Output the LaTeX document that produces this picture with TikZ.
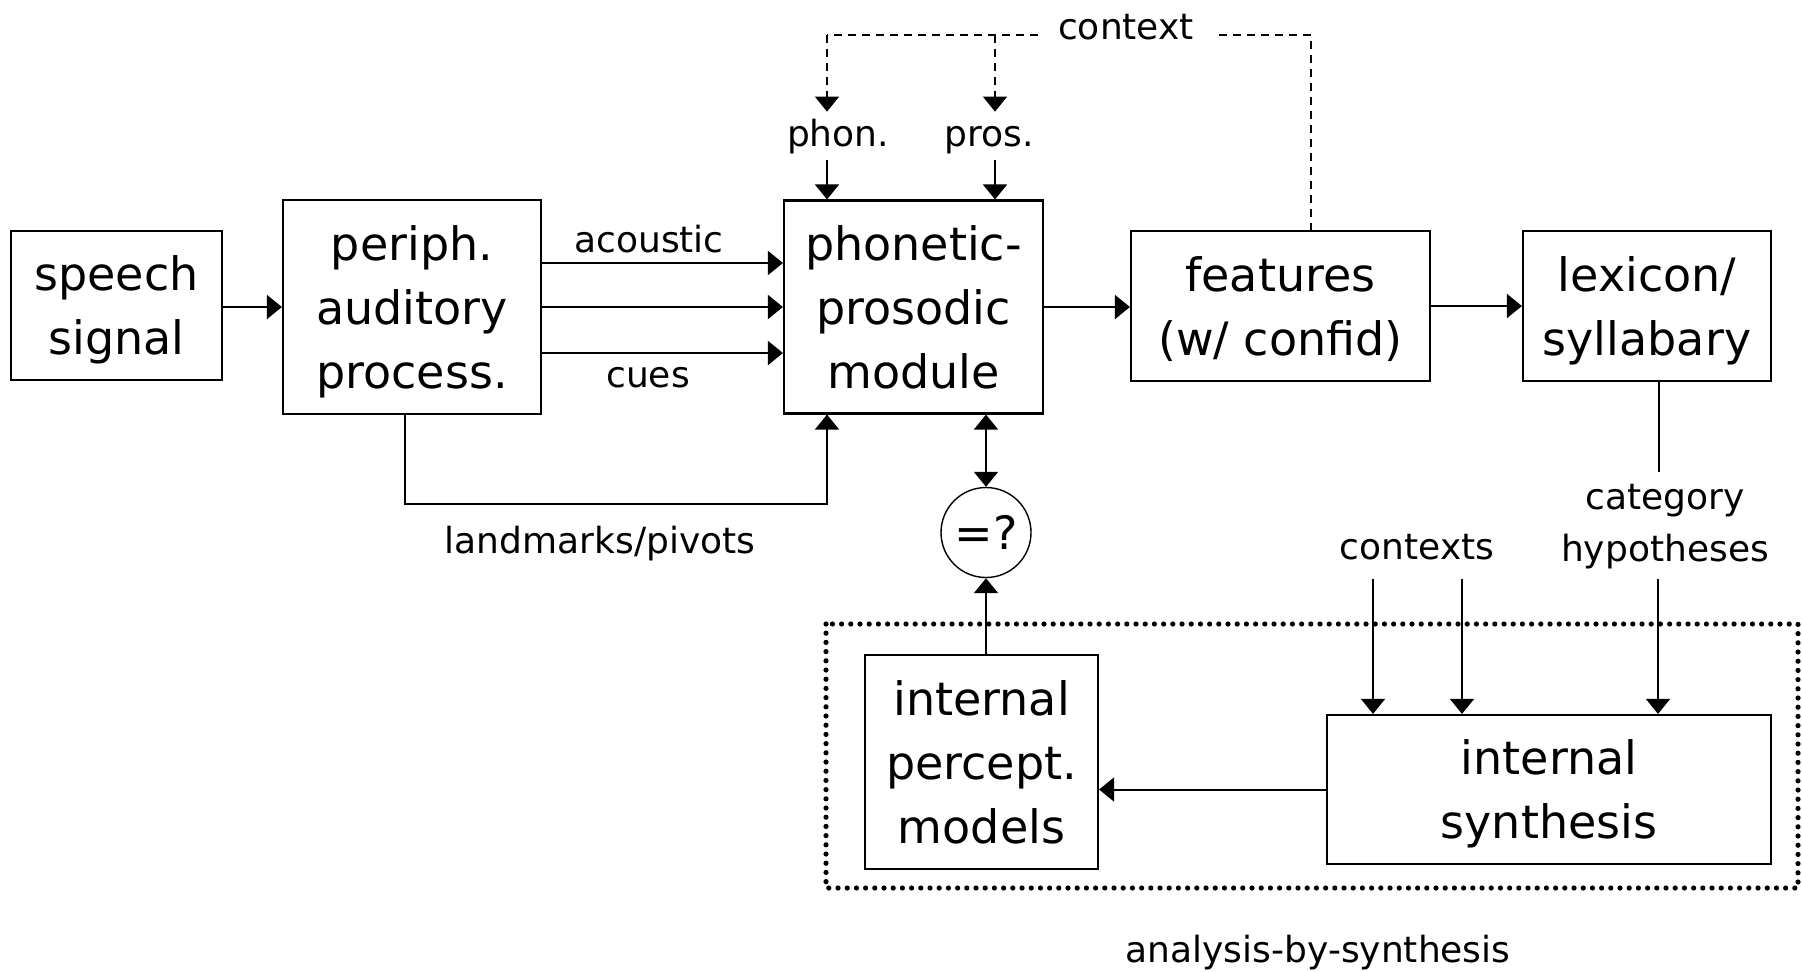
\documentclass[tikz,border=0pt]{standalone}
\usepackage{fontspec}
\setmainfont{DejaVu Sans}
\usetikzlibrary{arrows.meta,calc}

\begin{document}
\begin{tikzpicture}[
  x=0.5pt, y=-0.5pt,
  box/.style={draw, line width=1.1pt, align=center, inner sep=0pt, text depth=0pt, font=\fontsize{23}{32}\selectfont},
  lbl/.style={inner sep=3pt, text height=14pt, text depth=4pt, font=\fontsize{18}{24}\selectfont},
  arr/.style={line width=1pt, -{Triangle[length=7.5pt,width=12pt]}},
  thinarr/.style={line width=0.8pt, -{Triangle[length=7.5pt,width=12pt]}},
  ctxline/.style={line width=0.7pt, dash pattern=on 4pt off 3pt}
]
  \useasboundingbox (0,0) rectangle (1802,971);

  % main chain
  \node[box, minimum width=105.5pt, minimum height=74.5pt] (speech) at (116.5,305.5) {speech\\signal};
  \node[box, minimum width=129pt, minimum height=107pt] (periph) at (412,307) {periph.\\auditory\\process.};
  \node[box, minimum width=129.5pt, minimum height=106.5pt] (phon) at (913.5,307) {phonetic-\\prosodic\\module};
  \node[box, minimum width=149.5pt, minimum height=75pt] (feat) at (1280.5,306) {features\\(w/ confid)};
  \node[box, minimum width=124pt, minimum height=75pt] (lex) at (1647,306) {lexicon/\\syllabary};

  % analysis-by-synthesis
  \node[box, minimum width=116.5pt, minimum height=107pt] (percept) at (981.5,762) {internal\\percept.\\models};
  \node[box, minimum width=222pt, minimum height=74.5pt] (synth) at (1549,789.5) {internal\\synthesis};
  \node[draw, circle, line width=0.7pt, minimum size=45pt, inner sep=0pt, font=\fontsize{23}{32}\selectfont] (cmp) at (986,532.5) {=?};
  \draw[line width=2.6pt, line cap=round, dash pattern=on 0pt off 4.6pt] (826,624) rectangle (1798,888);

  % labels
  \node[lbl] (acou) at (649,242) {acoustic};
  \node[lbl] (cues) at (648,377) {cues};
  \node[lbl] (lmk) at (600,543) {landmarks/pivots};
  \node[lbl] (ctx) at (1126,29) {context};
  \node[lbl] (phonl) at (838,136) {phon.};
  \node[lbl] (prosl) at (989,136) {pros.};
  \node[lbl] (ctxs) at (1417,549) {contexts};
  \node[inner sep=3pt, align=center, font=\fontsize{18}{26}\selectfont] (cat) at (1665,526.5) {category\\hypotheses};
  \node[lbl] (abs) at (1318,952) {analysis-by-synthesis};

  \coordinate (cl) at (1038,35);
  \coordinate (cr) at (1219,35);
  \coordinate (phtop) at (827,35);
  \coordinate (prtop) at (995,35);
  \coordinate (c1) at (1373,579);
  \coordinate (c2) at (1462,579);
  \coordinate (c3) at (1658,579);
  \coordinate (lexend) at (1659,472);
  \coordinate (lmkc) at (405,504);

  \draw[arr] (speech.east |- periph.west) -- (periph.west);
  \draw[arr] ([yshift=22pt]periph.east) -- ([yshift=22pt]phon.west);
  \draw[arr] (periph.east) -- (phon.west);
  \draw[arr] ([yshift=-23pt]periph.east) -- ([yshift=-23pt]phon.west);
  \draw[line width=0.8pt] (lmkc |- periph.south) -- (lmkc) -| (phtop |- phon.south);
  \draw[arr] ([xshift=-43.25pt,yshift=-20pt]phon.south) -- ([xshift=-43.25pt]phon.south);
  \draw[arr] (phon.east) -- (phon.east -| feat.west);
  \draw[arr] (feat.east) -- (lex.west);

  % context
  \draw[ctxline] (cr) -| ([xshift=15.25pt]feat.north);
  \draw[ctxline] (cl) -- (phtop);
  \draw[ctxline, thinarr] (phtop) -- (phtop |- phonl.north);
  \draw[ctxline, thinarr] (prtop) -- (prtop |- prosl.north);
  \draw[arr] (phtop |- phonl.south) -- (phtop |- phon.north);
  \draw[arr] (prtop |- prosl.south) -- (prtop |- phon.north);

  \draw[line width=1pt, {Triangle[length=7.5pt,width=12pt]}-{Triangle[length=7.5pt,width=12pt]}] (cmp.north |- phon.south) -- (cmp.north);
  \draw[arr] (cmp.south |- percept.north) -- (cmp.south);
  \draw[arr] (synth.west) -- (synth.west -| percept.east);

  \draw[line width=0.7pt] (lexend |- lex.south) -- (lexend);
  \draw[thinarr] (c1) -- (c1 |- synth.north);
  \draw[thinarr] (c2) -- (c2 |- synth.north);
  \draw[thinarr] (c3) -- (c3 |- synth.north);
\end{tikzpicture}
\end{document}
